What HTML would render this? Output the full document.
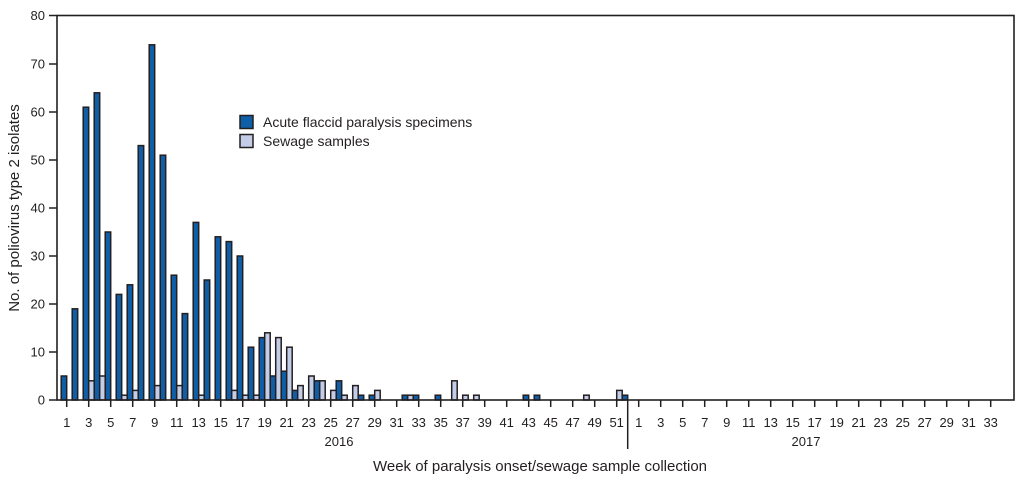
<!DOCTYPE html>
<html><head><meta charset="utf-8"><style>
html,body{margin:0;padding:0;background:#fff}
svg{display:block}
text{font-family:"Liberation Sans",sans-serif;fill:#231f20}
</style></head><body>
<svg width="1023" height="486" viewBox="0 0 1023 486" xmlns="http://www.w3.org/2000/svg">
<g stroke="#231f20" stroke-width="1.5" fill="#0f5ea8">
<rect x="61.2" y="376" width="5.5" height="24"/>
<rect x="72.2" y="308.8" width="5.5" height="91.2"/>
<rect x="83.2" y="107.2" width="5.5" height="292.8"/>
<rect x="94.2" y="92.8" width="5.5" height="307.2"/>
<rect x="105.2" y="232" width="5.5" height="168"/>
<rect x="116.2" y="294.4" width="5.5" height="105.6"/>
<rect x="127.2" y="284.8" width="5.5" height="115.2"/>
<rect x="138.2" y="145.6" width="5.5" height="254.4"/>
<rect x="149.2" y="44.8" width="5.5" height="355.2"/>
<rect x="160.2" y="155.2" width="5.5" height="244.8"/>
<rect x="171.2" y="275.2" width="5.5" height="124.8"/>
<rect x="182.2" y="313.6" width="5.5" height="86.4"/>
<rect x="193.2" y="222.4" width="5.5" height="177.6"/>
<rect x="204.2" y="280" width="5.5" height="120"/>
<rect x="215.2" y="236.8" width="5.5" height="163.2"/>
<rect x="226.2" y="241.6" width="5.5" height="158.4"/>
<rect x="237.2" y="256" width="5.5" height="144"/>
<rect x="248.2" y="347.2" width="5.5" height="52.8"/>
<rect x="259.2" y="337.6" width="5.5" height="62.4"/>
<rect x="270.2" y="376" width="5.5" height="24"/>
<rect x="281.2" y="371.2" width="5.5" height="28.8"/>
<rect x="292.2" y="390.4" width="5.5" height="9.6"/>
<rect x="314.2" y="380.8" width="5.5" height="19.2"/>
<rect x="336.2" y="380.8" width="5.5" height="19.2"/>
<rect x="358.2" y="395.2" width="5.5" height="4.8"/>
<rect x="369.2" y="395.2" width="5.5" height="4.8"/>
<rect x="402.2" y="395.2" width="5.5" height="4.8"/>
<rect x="413.2" y="395.2" width="5.5" height="4.8"/>
<rect x="435.2" y="395.2" width="5.5" height="4.8"/>
<rect x="523.2" y="395.2" width="5.5" height="4.8"/>
<rect x="534.2" y="395.2" width="5.5" height="4.8"/>
<rect x="622.2" y="395.2" width="5.5" height="4.8"/>
</g>
<g stroke="#231f20" stroke-width="1.5" fill="#c3cde8">
<rect x="88.7" y="380.8" width="5.5" height="19.2"/>
<rect x="99.7" y="376" width="5.5" height="24"/>
<rect x="121.7" y="395.2" width="5.5" height="4.8"/>
<rect x="132.7" y="390.4" width="5.5" height="9.6"/>
<rect x="154.7" y="385.6" width="5.5" height="14.4"/>
<rect x="176.7" y="385.6" width="5.5" height="14.4"/>
<rect x="198.7" y="395.2" width="5.5" height="4.8"/>
<rect x="231.7" y="390.4" width="5.5" height="9.6"/>
<rect x="242.7" y="395.2" width="5.5" height="4.8"/>
<rect x="253.7" y="395.2" width="5.5" height="4.8"/>
<rect x="264.7" y="332.8" width="5.5" height="67.2"/>
<rect x="275.7" y="337.6" width="5.5" height="62.4"/>
<rect x="286.7" y="347.2" width="5.5" height="52.8"/>
<rect x="297.7" y="385.6" width="5.5" height="14.4"/>
<rect x="308.7" y="376" width="5.5" height="24"/>
<rect x="319.7" y="380.8" width="5.5" height="19.2"/>
<rect x="330.7" y="390.4" width="5.5" height="9.6"/>
<rect x="341.7" y="395.2" width="5.5" height="4.8"/>
<rect x="352.7" y="385.6" width="5.5" height="14.4"/>
<rect x="374.7" y="390.4" width="5.5" height="9.6"/>
<rect x="407.7" y="395.2" width="5.5" height="4.8"/>
<rect x="451.7" y="380.8" width="5.5" height="19.2"/>
<rect x="462.7" y="395.2" width="5.5" height="4.8"/>
<rect x="473.7" y="395.2" width="5.5" height="4.8"/>
<rect x="583.7" y="395.2" width="5.5" height="4.8"/>
<rect x="616.7" y="390.4" width="5.5" height="9.6"/>
</g>
<rect x="57" y="15.5" width="957" height="384.5" fill="none" stroke="#231f20" stroke-width="1.6"/>
<line x1="627.7" y1="400" x2="627.7" y2="449" stroke="#231f20" stroke-width="1.5"/>
<g stroke="#231f20" stroke-width="1.5">
<line x1="49" y1="15.5" x2="57" y2="15.5"/><line x1="49" y1="64" x2="57" y2="64"/><line x1="49" y1="112" x2="57" y2="112"/><line x1="49" y1="160" x2="57" y2="160"/><line x1="49" y1="208" x2="57" y2="208"/><line x1="49" y1="256" x2="57" y2="256"/><line x1="49" y1="304" x2="57" y2="304"/><line x1="49" y1="352" x2="57" y2="352"/><line x1="49" y1="400" x2="57" y2="400"/>
</g>
<g font-size="13" text-anchor="end">
<text x="45" y="20">80</text><text x="45" y="68.5">70</text><text x="45" y="116.5">60</text><text x="45" y="164.5">50</text><text x="45" y="212.5">40</text><text x="45" y="260.5">30</text><text x="45" y="308.5">20</text><text x="45" y="356.5">10</text><text x="45" y="404.5">0</text>
</g>
<g stroke="#231f20" stroke-width="1.5">
<line x1="66.7" y1="400" x2="66.7" y2="407"/><line x1="88.7" y1="400" x2="88.7" y2="407"/><line x1="110.7" y1="400" x2="110.7" y2="407"/><line x1="132.7" y1="400" x2="132.7" y2="407"/><line x1="154.7" y1="400" x2="154.7" y2="407"/><line x1="176.7" y1="400" x2="176.7" y2="407"/><line x1="198.7" y1="400" x2="198.7" y2="407"/><line x1="220.7" y1="400" x2="220.7" y2="407"/><line x1="242.7" y1="400" x2="242.7" y2="407"/><line x1="264.7" y1="400" x2="264.7" y2="407"/><line x1="286.7" y1="400" x2="286.7" y2="407"/><line x1="308.7" y1="400" x2="308.7" y2="407"/><line x1="330.7" y1="400" x2="330.7" y2="407"/><line x1="352.7" y1="400" x2="352.7" y2="407"/><line x1="374.7" y1="400" x2="374.7" y2="407"/><line x1="396.7" y1="400" x2="396.7" y2="407"/><line x1="418.7" y1="400" x2="418.7" y2="407"/><line x1="440.7" y1="400" x2="440.7" y2="407"/><line x1="462.7" y1="400" x2="462.7" y2="407"/><line x1="484.7" y1="400" x2="484.7" y2="407"/><line x1="506.7" y1="400" x2="506.7" y2="407"/><line x1="528.7" y1="400" x2="528.7" y2="407"/><line x1="550.7" y1="400" x2="550.7" y2="407"/><line x1="572.7" y1="400" x2="572.7" y2="407"/><line x1="594.7" y1="400" x2="594.7" y2="407"/><line x1="616.7" y1="400" x2="616.7" y2="407"/>
<line x1="638.7" y1="400" x2="638.7" y2="407"/><line x1="660.7" y1="400" x2="660.7" y2="407"/><line x1="682.7" y1="400" x2="682.7" y2="407"/><line x1="704.7" y1="400" x2="704.7" y2="407"/><line x1="726.7" y1="400" x2="726.7" y2="407"/><line x1="748.7" y1="400" x2="748.7" y2="407"/><line x1="770.7" y1="400" x2="770.7" y2="407"/><line x1="792.7" y1="400" x2="792.7" y2="407"/><line x1="814.7" y1="400" x2="814.7" y2="407"/><line x1="836.7" y1="400" x2="836.7" y2="407"/><line x1="858.7" y1="400" x2="858.7" y2="407"/><line x1="880.7" y1="400" x2="880.7" y2="407"/><line x1="902.7" y1="400" x2="902.7" y2="407"/><line x1="924.7" y1="400" x2="924.7" y2="407"/><line x1="946.7" y1="400" x2="946.7" y2="407"/><line x1="968.7" y1="400" x2="968.7" y2="407"/><line x1="990.7" y1="400" x2="990.7" y2="407"/>
</g>
<g font-size="13" text-anchor="middle">
<text x="66.7" y="427">1</text><text x="88.7" y="427">3</text><text x="110.7" y="427">5</text><text x="132.7" y="427">7</text><text x="154.7" y="427">9</text><text x="176.7" y="427">11</text><text x="198.7" y="427">13</text><text x="220.7" y="427">15</text><text x="242.7" y="427">17</text><text x="264.7" y="427">19</text><text x="286.7" y="427">21</text><text x="308.7" y="427">23</text><text x="330.7" y="427">25</text><text x="352.7" y="427">27</text><text x="374.7" y="427">29</text><text x="396.7" y="427">31</text><text x="418.7" y="427">33</text><text x="440.7" y="427">35</text><text x="462.7" y="427">37</text><text x="484.7" y="427">39</text><text x="506.7" y="427">41</text><text x="528.7" y="427">43</text><text x="550.7" y="427">45</text><text x="572.7" y="427">47</text><text x="594.7" y="427">49</text><text x="616.7" y="427">51</text>
<text x="638.7" y="427">1</text><text x="660.7" y="427">3</text><text x="682.7" y="427">5</text><text x="704.7" y="427">7</text><text x="726.7" y="427">9</text><text x="748.7" y="427">11</text><text x="770.7" y="427">13</text><text x="792.7" y="427">15</text><text x="814.7" y="427">17</text><text x="836.7" y="427">19</text><text x="858.7" y="427">21</text><text x="880.7" y="427">23</text><text x="902.7" y="427">25</text><text x="924.7" y="427">27</text><text x="946.7" y="427">29</text><text x="968.7" y="427">31</text><text x="990.7" y="427">33</text>
<text x="339" y="446">2016</text><text x="806" y="446">2017</text>
<text x="540" y="471" font-size="15">Week of paralysis onset/sewage sample collection</text>
<text transform="translate(19,208) rotate(-90)" font-size="15">No. of poliovirus type 2 isolates</text>
</g>
<rect x="240" y="115.5" width="13" height="13" fill="#0f5ea8" stroke="#231f20" stroke-width="1.5"/>
<rect x="240" y="134.5" width="13" height="13" fill="#c3cde8" stroke="#231f20" stroke-width="1.5"/>
<text x="263" y="127" font-size="14">Acute flaccid paralysis specimens</text>
<text x="263" y="146" font-size="14">Sewage samples</text>
</svg>
</body></html>
